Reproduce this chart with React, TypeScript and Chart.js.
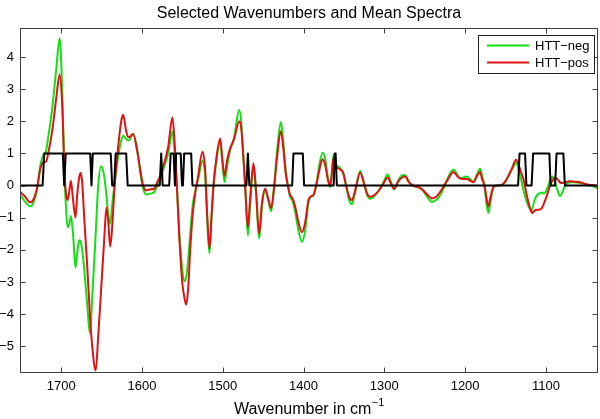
import React, { useEffect, useRef } from "react";
import { Chart, registerables } from "chart.js";

Chart.register(...registerables);

// ---------- text ----------
const TITLE = "Selected Wavenumbers and Mean Spectra";
const X_LABEL = "Wavenumber in cm";
const X_LABEL_SUP = "\u22121";
const SERIES_NAMES = ["HTT\u2212neg", "HTT\u2212pos"];

// ---------- axes ----------
const X_TICKS = [1700, 1600, 1500, 1400, 1300, 1200, 1100];
const Y_TICKS = [-5, -4, -3, -2, -1, 0, 1, 2, 3, 4];
const X_MIN = 1035.5;
const X_MAX = 1751;
const Y_MIN = -5.83;
const Y_MAX = 4.9;

// ---------- spectra (wavenumber, cm^-1) ----------
const wavenumbers = [
  1750.7, 1744.6, 1738.4, 1734.7, 1729.7, 1726.0, 1722.3, 1718.6, 1716.1, 1711.1,
  1706.2, 1701.9, 1698.8, 1695.7, 1693.8, 1692.0, 1690.1, 1688.0, 1685.1, 1682.3,
  1680.2, 1677.7, 1675.9, 1674.0, 1671.5, 1667.8, 1664.5, 1661.6, 1657.3, 1654.2,
  1650.5, 1646.8, 1644.0, 1641.8, 1639.4, 1636.9, 1633.8, 1629.5, 1625.7, 1623.3,
  1619.6, 1616.5, 1610.9, 1606.0, 1602.2, 1598.5,
  1594.8, 1589.9, 1584.9, 1581.2, 1577.5, 1572.5, 1567.6, 1562.3, 1559.5, 1556.8,
  1554.0, 1550.2, 1547.4, 1545.3, 1542.8, 1540.3, 1537.2, 1534.2, 1530.4, 1525.1,
  1521.8, 1519.3, 1516.5, 1513.8, 1511.5, 1508.2, 1503.2, 1500.8, 1497.9, 1494.6,
  1490.9, 1485.9, 1479.7, 1477.2, 1474.8, 1472.3, 1468.9, 1466.1, 1462.0, 1458.7,
  1455.0, 1451.3, 1447.5, 1443.8, 1440.1, 1436.4, 1432.7, 1428.1, 1425.2, 1422.2,
  1419.4, 1416.6, 1414.1,
  1410.4, 1406.7, 1402.1, 1398.0, 1393.9, 1390.6, 1387.8, 1384.4, 1380.7, 1376.6,
  1373.3, 1369.6, 1367.1, 1365.3, 1363.0, 1359.7, 1354.7, 1351.0, 1347.3, 1343.6,
  1340.2, 1336.1, 1329.9, 1325.0, 1321.3, 1317.6, 1311.4, 1305.2, 1300.2, 1296.2,
  1291.6, 1287.9, 1282.9, 1278.0, 1274.3, 1269.3, 1264.4, 1258.2, 1253.2, 1247.0,
  1241.2, 1235.9, 1230.9, 1226.0,
  1221.1, 1214.5, 1209.9, 1206.2, 1202.5, 1197.9, 1193.8, 1189.8, 1185.2, 1181.5,
  1179.0, 1176.1, 1173.4, 1171.2, 1168.5, 1165.0, 1160.4, 1154.6, 1150.5, 1146.4,
  1141.8, 1136.9, 1133.2, 1129.8, 1127.8, 1123.7, 1120.8, 1118.3, 1116.7, 1114.0,
  1110.9, 1108.5, 1105.1, 1102.3, 1098.6, 1094.9, 1092.0, 1088.7, 1085.6, 1082.5,
  1079.4, 1076.3, 1070.1, 1063.9, 1057.7, 1051.5, 1045.3, 1039.1, 1035.5,
];

const httNeg = [
  -0.3, -0.5, -0.65, -0.55, -0.1, 0.6, 0.95, 1.1, 1.5, 2.4,
  3.6, 4.58, 3.0, 0.2, -0.8, -1.3, -1.2, -0.95, -1.6, -2.55,
  -2.1, -1.7, -1.75, -2.0, -2.6, -3.7, -4.6, -3.5, -1.5, 0.0,
  0.6, 0.3, -0.3, -0.9, -1.2, -0.6, 0.1, 0.9, 1.4, 1.55,
  1.45, 1.4, 1.6, 1.1, 0.4, -0.1,
  -0.28, -0.25, -0.2, 0.0, 0.2, 0.6, 1.0, 1.68, 1.0, 0.0,
  -1.4, -2.6, -2.98, -2.85, -2.3, -1.5, -0.6, -0.2, 0.2, 0.77,
  0.3, -1.0, -2.11, -1.0, 0.0, 0.7, 1.4, 0.8, 0.11, 0.6,
  1.1, 1.5, 2.35, 2.0, 1.0, 0.0, -1.55, -0.6, 0.6, -0.3,
  -1.65, -0.6, -0.15, -0.45, -0.8, 0.0, 1.1, 1.98, 1.4, 0.5,
  0.0, -0.35, -0.45,
  -0.8, -1.35, -1.75, -1.4, -0.5, -0.35, -0.3, 0.0, 0.6, 1.02,
  0.85, 0.2, -0.05, 0.3, 0.95, 0.65, 0.55, 0.4, 0.0, -0.45,
  -0.58, -0.2, 0.45, 0.05, -0.3, -0.41, -0.3, -0.1, 0.15, 0.34,
  0.1, -0.12, 0.15, 0.32, 0.32, 0.1, 0.0, -0.05, -0.12, -0.35,
  -0.51, -0.45, -0.3, -0.05,
  0.25, 0.5, 0.35, 0.22, 0.25, 0.28, 0.2, 0.12, 0.35, 0.52,
  0.3, 0.0, -0.6, -0.85, -0.5, -0.05, 0.0, 0.02, 0.1, 0.3,
  0.5, 0.72, 0.45, 0.1, -0.15, -0.5, -0.68, -0.75, -0.7, -0.45,
  -0.3, -0.25, -0.22, -0.25, -0.1, 0.15, 0.28, 0.1, -0.15, -0.33,
  -0.2, 0.0, 0.1, 0.1, 0.08, 0.05, 0.0, -0.05, -0.1,
];

const httPos = [
  -0.2, -0.35, -0.52, -0.45, -0.05, 0.5, 0.72, 0.75, 1.0, 1.7,
  2.7, 3.45, 2.5, 0.3, -0.3, -0.45, -0.2, 0.15, -0.5, -1.0,
  -0.3, 0.25, 0.4, 0.1, -1.0, -2.5, -4.0, -5.0, -5.75, -4.7,
  -3.2, -1.7, -0.68, -1.1, -1.9, -1.3, 0.0, 1.2, 2.0, 2.2,
  1.7, 1.5, 1.6, 1.1, 0.5, 0.0,
  -0.15, -0.12, -0.1, 0.1, 0.3, 0.7, 1.2, 2.12, 1.3, 0.0,
  -1.5, -3.0, -3.5, -3.7, -3.2, -2.0, -0.9, -0.25, 0.3, 1.05,
  0.5, -0.9, -1.96, -0.9, 0.0, 0.8, 1.46, 0.9, 0.3, 0.8,
  1.15, 1.45, 2.0, 1.8, 1.0, 0.0, -1.3, -0.4, 0.69, -0.2,
  -1.5, -0.5, -0.1, -0.4, -0.7, -0.05, 0.9, 1.69, 1.2, 0.4,
  0.0, -0.3, -0.38,
  -0.65, -1.1, -1.45, -1.15, -0.45, -0.33, -0.3, 0.0, 0.45, 0.82,
  0.65, 0.15, 0.0, 0.3, 0.85, 0.6, 0.5, 0.4, 0.0, -0.35,
  -0.45, -0.15, 0.4, 0.05, -0.25, -0.35, -0.28, -0.1, 0.1, 0.25,
  0.05, -0.1, 0.12, 0.25, 0.28, 0.1, 0.0, -0.05, -0.12, -0.28,
  -0.4, -0.35, -0.2, 0.0,
  0.2, 0.42, 0.3, 0.22, 0.2, 0.2, 0.15, 0.1, 0.3, 0.42,
  0.2, 0.0, -0.4, -0.65, -0.35, -0.05, 0.0, 0.02, 0.12, 0.3,
  0.55, 0.8, 0.6, 0.35, 0.2, -0.3, -0.6, -0.8, -0.85, -0.78,
  -0.75, -0.75, -0.7, -0.55, -0.3, 0.0, 0.15, 0.25, 0.2, 0.1,
  0.08, 0.1, 0.13, 0.12, 0.1, 0.05, 0.02, 0.0, -0.05,
];

// ---------- selected wavenumbers (0/1 indicator line vertices) ----------
const selX = [
  1751, 1723, 1721, 1698, 1696.3, 1694.4, 1664.1, 1662.5, 1660.9, 1638.7,
  1636.9, 1634.4, 1632.6, 1619.6, 1617.7, 1578, 1576.2, 1574.4, 1566.3, 1564.5,
  1560.8, 1559.2, 1557.7, 1552.1, 1550.5, 1549.3, 1547.8, 1539.1, 1537.5, 1470.7,
  1468.9, 1467.1, 1414.1, 1412.5, 1400.9, 1399.3, 1362.7, 1361.5, 1360.3, 1358.8,
  1134.4, 1132.6, 1125.8, 1124.1, 1117.7, 1115.8, 1095.7, 1094.2, 1088.6, 1086.8,
  1078.4, 1076.5, 1035.5,
];
const selY = [
  0, 0, 1, 1, 0, 1, 1, 0, 1, 1,
  0, 0, 1, 1, 0, 0, 1, 0, 0, 1,
  1, 0, 1, 1, 0, 0, 1, 1, 0, 0,
  1, 0, 0, 1, 1, 0, 0, 1, 1, 0,
  0, 1, 1, 0, 0, 1, 1, 0, 0, 1,
  1, 0, 0,
];

const GREEN = "#12e012";
const RED = "#e01212";
const FONT = "'Liberation Sans', Arial, Helvetica, sans-serif";
const AXIS_COLOR = "#404040";

const framePlugin = {
  id: "matlabFrame",
  afterDraw(chart: any) {
    const { ctx, chartArea, scales } = chart;
    const { left, right, top, bottom } = chartArea;
    ctx.save();
    // box
    ctx.strokeStyle = AXIS_COLOR;
    ctx.lineWidth = 1;
    const L = Math.round(left) + 0.5;
    const R = Math.round(right) - 0.5;
    const T = Math.round(top) + 0.5;
    const B = Math.round(bottom) - 0.5;
    ctx.strokeRect(L, T, R - L, B - T);
    // inward ticks
    ctx.beginPath();
    const tl = 5;
    X_TICKS.forEach((v) => {
      const px = Math.round(scales.x.getPixelForValue(v)) + 0.5;
      ctx.moveTo(px, B);
      ctx.lineTo(px, B - tl);
      ctx.moveTo(px, T);
      ctx.lineTo(px, T + tl);
    });
    Y_TICKS.forEach((v) => {
      const py = Math.round(scales.y.getPixelForValue(v)) + 0.5;
      ctx.moveTo(L, py);
      ctx.lineTo(L + tl, py);
      ctx.moveTo(R, py);
      ctx.lineTo(R - tl, py);
    });
    ctx.stroke();

    // title
    const cx = (left + right) / 2;
    ctx.fillStyle = "#000";
    ctx.font = `16px ${FONT}`;
    ctx.textAlign = "center";
    ctx.textBaseline = "alphabetic";
    ctx.fillText(TITLE, cx, 18);

    // x label with superscript
    ctx.font = `16px ${FONT}`;
    const mainW = ctx.measureText(X_LABEL).width;
    ctx.font = `11px ${FONT}`;
    const supW = ctx.measureText(X_LABEL_SUP).width;
    const startX = cx - (mainW + supW) / 2;
    ctx.textAlign = "left";
    ctx.font = `16px ${FONT}`;
    ctx.fillText(X_LABEL, startX, 414);
    ctx.font = `11px ${FONT}`;
    ctx.fillText(X_LABEL_SUP, startX + mainW + 0.5, 406);

    // legend
    const bx = 478.5, by = 35.5, bw = 116, bh = 38;
    ctx.fillStyle = "#fff";
    ctx.fillRect(bx, by, bw, bh);
    ctx.strokeStyle = "#202020";
    ctx.lineWidth = 1;
    ctx.strokeRect(bx, by, bw, bh);
    const rows = [
      { name: SERIES_NAMES[0], color: GREEN, y: 45.5 },
      { name: SERIES_NAMES[1], color: RED, y: 62.5 },
    ];
    rows.forEach((r) => {
      ctx.strokeStyle = r.color;
      ctx.lineWidth = 2;
      ctx.beginPath();
      ctx.moveTo(487, r.y);
      ctx.lineTo(529, r.y);
      ctx.stroke();
      ctx.fillStyle = "#000";
      ctx.font = `13px ${FONT}`;
      ctx.textAlign = "left";
      ctx.textBaseline = "middle";
      ctx.fillText(r.name, 535, r.y + 0.5);
    });
    ctx.restore();
  },
};

export default function App() {
  const canvasRef = useRef<HTMLCanvasElement | null>(null);

  useEffect(() => {
    const canvas = canvasRef.current;
    if (!canvas) return;
    const negData = wavenumbers.map((w, i) => ({ x: w, y: httNeg[i] }));
    const posData = wavenumbers.map((w, i) => ({ x: w, y: httPos[i] }));
    const selData = selX.map((w, i) => ({ x: w, y: selY[i] }));

    const chart = new Chart(canvas, {
      type: "line",
      data: {
        datasets: [
          {
            label: "selected",
            data: selData,
            borderColor: "#000",
            borderWidth: 2,
            pointRadius: 0,
            tension: 0,
            borderJoinStyle: "round",
            order: 0,
          },
          {
            label: SERIES_NAMES[1],
            data: posData,
            borderColor: RED,
            borderWidth: 2,
            pointRadius: 0,
            cubicInterpolationMode: "monotone",
            order: 1,
          },
          {
            label: SERIES_NAMES[0],
            data: negData,
            borderColor: GREEN,
            borderWidth: 2,
            pointRadius: 0,
            cubicInterpolationMode: "monotone",
            order: 2,
          },
        ],
      },
      options: {
        animation: false,
        responsive: false,
        devicePixelRatio: 1,
        parsing: true,
        layout: { padding: { top: 28, right: 2, left: 0, bottom: 0 } },
        plugins: {
          legend: { display: false },
          title: { display: false },
          tooltip: { enabled: false },
        },
        scales: {
          x: {
            type: "linear",
            reverse: true,
            min: X_MIN,
            max: X_MAX,
            afterFit: (s: any) => {
              s.height = 46;
            },
            afterBuildTicks: (s: any) => {
              s.ticks = X_TICKS.map((v) => ({ value: v }));
            },
            grid: { display: false, drawTicks: false },
            border: { display: false },
            ticks: {
              padding: 6,
              color: "#000",
              autoSkip: false,
              maxRotation: 0,
              font: { family: FONT, size: 13 },
              callback: (v: any) => String(v),
            },
          },
          y: {
            type: "linear",
            min: Y_MIN,
            max: Y_MAX,
            afterFit: (s: any) => {
              s.width = 20;
            },
            afterBuildTicks: (s: any) => {
              s.ticks = Y_TICKS.map((v) => ({ value: v }));
            },
            grid: { display: false, drawTicks: false },
            border: { display: false },
            ticks: {
              padding: 6,
              color: "#000",
              autoSkip: false,
              font: { family: FONT, size: 13 },
              callback: (v: any) => (v < 0 ? "\u2212" + Math.abs(v) : String(v)),
            },
          },
        },
      } as any,
      plugins: [framePlugin],
    });
    return () => chart.destroy();
  }, []);

  return (
    <div style={{ position: "fixed", left: 0, top: 0, width: 600, height: 419, background: "#fff" }}>
      <canvas ref={canvasRef} width={600} height={419} style={{ width: 600, height: 419, display: "block" }} />
    </div>
  );
}
